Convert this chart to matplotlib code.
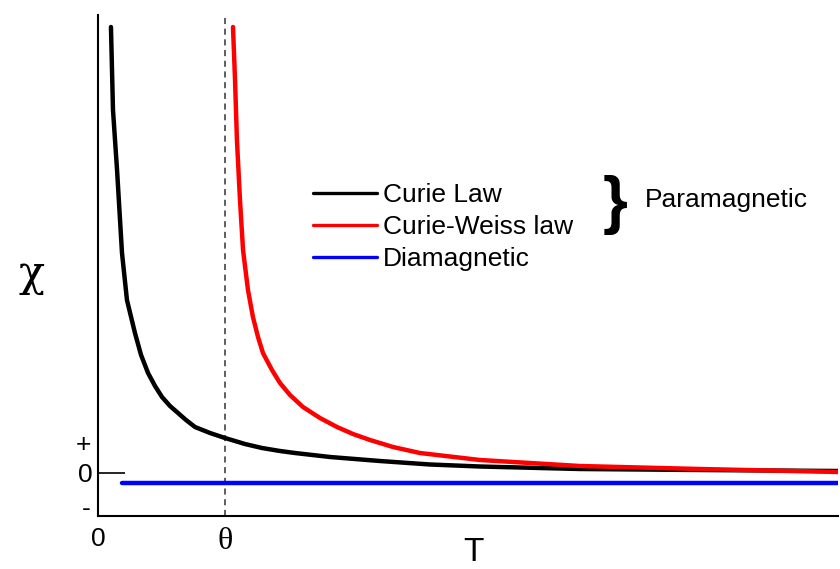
import matplotlib.pyplot as plt

plt.rcParams["font.family"] = ["Liberation Sans", "DejaVu Sans"]

# temperature (theta = 1) and susceptibility
curie_t = [0.102, 0.118, 0.150, 0.189, 0.228, 0.291, 0.339, 0.394, 0.449,
           0.504, 0.567, 0.630, 0.693, 0.764, 0.882, 1.000, 1.157, 1.291,
           1.433, 1.551, 1.827, 2.220, 2.614, 3.008, 3.795, 4.740, 5.827]
curie_chi = [4.46, 3.63, 3.03, 2.20, 1.73, 1.40, 1.18, 1.00, 0.87,
             0.76, 0.67, 0.60, 0.53, 0.46, 0.40, 0.35, 0.29, 0.25,
             0.22, 0.20, 0.16, 0.12, 0.085, 0.065, 0.04, 0.03, 0.02]

weiss_t = [1.063, 1.079, 1.094, 1.118, 1.142, 1.181, 1.220, 1.260, 1.299,
           1.370, 1.433, 1.512, 1.614, 1.748, 1.882, 2.008, 2.142, 2.323,
           2.535, 3.008, 3.402, 3.795, 4.740, 5.827]
weiss_chi = [4.46, 3.93, 3.33, 2.73, 2.23, 1.83, 1.56, 1.36, 1.20,
             1.03, 0.90, 0.78, 0.66, 0.55, 0.46, 0.39, 0.33, 0.26,
             0.20, 0.13, 0.10, 0.07, 0.04, 0.01]

dia_t = [0.189, 5.827]
dia_chi = [-0.10, -0.10]

theta = 1.0
labels = ["Curie Law", "Curie-Weiss law", "Diamagnetic"]

fig = plt.figure(figsize=(8.4, 5.69), dpi=100)
ax = fig.add_axes([98 / 840, 53 / 569, 740 / 840, 501 / 569])

style = dict(lw=3.2, solid_joinstyle="round", solid_capstyle="round")
ax.plot(curie_t, curie_chi, color="black", label=labels[0], **style)
ax.plot(weiss_t, weiss_chi, color="#ff0000", label=labels[1], **style)
ax.plot(dia_t, dia_chi, color="#0000ff", label=labels[2], **style)
ax.axvline(theta, color="#333333", lw=1.1, ls=(0, (4, 3)), zorder=0)

ax.set_xlim(0, 5.827)
ax.set_ylim(-0.43, 4.58)

for s in ["top", "right"]:
    ax.spines[s].set_visible(False)
for s in ["left", "bottom"]:
    ax.spines[s].set_linewidth(1.5)

ax.set_xticks([0, theta])
ax.set_xticklabels(["0", "θ"])
ax.tick_params(axis="x", length=0, pad=8, labelsize=19)
ax.get_xticklabels()[1].set_family("Liberation Serif")
ax.get_xticklabels()[1].set_fontsize(23)

ax.set_yticks([0])
ax.set_yticklabels(["0"])
ax.set_yticks([-0.33, 0.30], minor=True)
ax.set_yticklabels(["-", "+"], minor=True)
ax.tick_params(axis="y", which="major", direction="in", length=19.5,
               width=1.2, pad=4, labelsize=19)
ax.tick_params(axis="y", which="minor", length=0, pad=5, labelsize=19)

fig.text(32 / 840, 1 - 274 / 569, "χ", fontsize=31, family="DejaVu Serif",
         ha="center", va="center")
fig.text(473 / 840, 1 - 568 / 569, "T", fontsize=24, ha="center",
         va="bottom")

leg = ax.legend(loc="upper left", bbox_to_anchor=(313 / 840, 1 - 183 / 569),
                bbox_transform=fig.transFigure, frameon=False, fontsize=19,
                handlelength=2.42, handletextpad=0.23, labelspacing=0.31,
                borderaxespad=0, borderpad=0)
for line in leg.get_lines():
    line.set_linewidth(2.4)

fig.text(615 / 840, 1 - 205 / 569, "}", fontsize=46, fontweight="bold",
         ha="center", va="center")
fig.text(645 / 840, 1 - 200 / 569, "Paramagnetic", fontsize=19,
         ha="left", va="center")

fig.savefig("out.png", dpi=100)
